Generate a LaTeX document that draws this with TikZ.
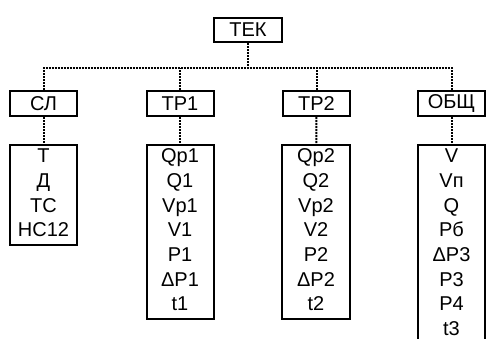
\documentclass[tikz,border=0pt]{standalone}
\usepackage{fontspec}
\setmainfont{Liberation Sans}
\newcommand{\prm}[1]{\strut#1}

\begin{document}
\begin{tikzpicture}[x=1pt,y=-1pt,
		box/.style={draw, line width=2pt, inner sep=0pt, minimum width=67pt, minimum height=25pt, font=\fontsize{20}{24.7}\selectfont},
		list/.style={draw, line width=2pt, anchor=north, align=center, inner xsep=0pt, inner ysep=0.5pt, text width=67pt, font=\fontsize{20}{24.7}\selectfont},
		link/.style={line width=2pt, dash pattern=on 2pt off 1pt}]
			\useasboundingbox (0,0) rectangle (486,338);
			\node[box, minimum width=68pt, minimum height=24pt] (tek) at (248,30) {ТЕК};
			\node[box] (sl) at (43.5,103.5) {СЛ};
			\node[box] (tr1) at (180,103.5) {ТР1};
			\node[box] (tr2) at (316.5,103.5) {ТР2};
			\node[box] (obsh) at (451.5,103.5) {ОБЩ};
			\node[list] (sl-list) at (43.5,144) {\prm{Т}\\\prm{Д}\\\prm{ТС}\\\prm{НС12}};
			\node[list] (tr1-list) at (180,144) {\prm{Qp1}\\\prm{Q1}\\\prm{Vp1}\\\prm{V1}\\\prm{P1}\\\prm{ΔP1}\\\prm{t1}};
			\node[list, text width=68pt] (tr2-list) at (316,144) {\prm{Qp2}\\\prm{Q2}\\\prm{Vp2}\\\prm{V2}\\\prm{P2}\\\prm{ΔP2}\\\prm{t2}};
			\node[list] (obsh-list) at (451.5,144) {\prm{V}\\\prm{Vп}\\\prm{Q}\\\prm{Рб}\\\prm{ΔP3}\\\prm{P3}\\\prm{P4}\\\prm{t3}};
			\coordinate (bus) at (248,68);
			\draw[link] (tek) -- (bus);
			\draw[link] (sl) |- (bus) -| (obsh);
			\draw[link] (tr1) -- (tr1 |- bus);
			\draw[link] (tr2) -- (tr2 |- bus);
			\path[link]
			(sl) edge (sl-list)
			(tr1) edge (tr1-list)
			(tr2) edge (tr2-list)
			(obsh) edge (obsh-list);
		\end{tikzpicture}
\end{document}
